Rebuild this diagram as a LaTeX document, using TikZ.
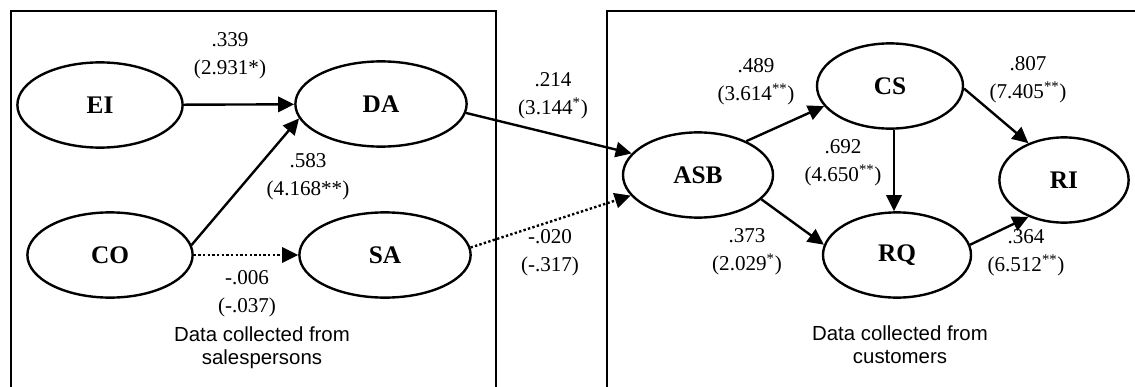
\documentclass[tikz,border=0pt]{standalone}
\usepackage{fontspec}
\setmainfont{Liberation Serif}
\setsansfont{Liberation Sans}
\usetikzlibrary{arrows.meta,shapes.geometric}

\begin{document}
\begin{tikzpicture}[x=.025cm,y=-.025cm,>={Triangle[length=.4cm,width=.38cm]},
  lv/.style={draw,ellipse,line width=1.7pt,inner sep=0pt,minimum height=2.13cm,
    font=\fontsize{18}{18}\selectfont\bfseries},
  eff/.style={->,line width=1.7pt},
  nsig/.style={eff,dash pattern=on 1.7pt off 1.6pt},
  coef/.style={align=center,font=\fontsize{15}{20}\selectfont},
  src/.style={align=center,font=\sffamily\fontsize{14.5}{16.5}\selectfont},
  panel/.style={line width=2pt}]
\useasboundingbox (0,0) rectangle (1135,387);
% the two samples
\draw[panel] (11,390) |- (496,11) -- (496,390);
\draw[panel] (607,390) |- (1140,11);
\node[src] (sp) at (262,348) {Data collected from\\salespersons};
\node[src] (cu) at (900,345) {Data collected from\\customers};
% latent variables
\node[lv,minimum width=4.13cm] (EI) at (100,105) {EI};
\node[lv,minimum width=4.28cm] (DA) at (381,104) {DA};
\node[lv,minimum width=4.13cm] (CO) at (110,255) {CO};
\node[lv,minimum width=4.28cm] (SA) at (385,255) {SA};
\node[lv,minimum width=3.75cm] (ASB) at (698,175) {ASB};
\node[lv,minimum width=3.65cm] (CS) at (890,86) {CS};
\node[lv,minimum width=3.7cm] (RQ) at (897,255) {RQ};
\node[lv,minimum width=3.23cm] (RI) at (1064,180) {RI};
% paths
\draw[eff] (EI) -- (DA);
\draw[eff] (CO.7) -- (DA.190);
\draw[nsig] (CO.0) -- (SA.180);
\draw[eff] (DA.-6) -- (ASB.162);
\draw[nsig] (SA.5) -- (ASB.197);
\draw[eff] (ASB.35) -- (CS.197);
\draw[eff] (ASB.-21) -- (RQ.172);
\draw[eff] (CS.south -| 894,0) -- (RQ.north -| 894,0);
\draw[eff] (CS.-2) -- (RI.134);
\draw[eff] (RQ.8) -- (RI.226);
% estimates (t-values)
\node[coef] (c1) at (230,56) {.339\\(2.931*)};
\node[coef] (c2) at (308,177) {.583\\(4.168**)};
\node[coef] (c3) at (247,294) {-.006\\(-.037)};
\node[coef] (c4) at (553,96) {.214\\(3.144\textsuperscript{*})};
\node[coef] (c5) at (550,253) {-.020\\(-.317)};
\node[coef] (c6) at (756,82) {.489\\(3.614\textsuperscript{**})};
\node[coef] (c7) at (747,252) {.373\\(2.029\textsuperscript{*})};
\node[coef] (c8) at (843,163) {.692\\(4.650\textsuperscript{**})};
\node[coef] (c9) at (1028,80) {.807\\(7.405\textsuperscript{**})};
\node[coef] (c10) at (1026,253) {.364\\(6.512\textsuperscript{**})};
\end{tikzpicture}
\end{document}
